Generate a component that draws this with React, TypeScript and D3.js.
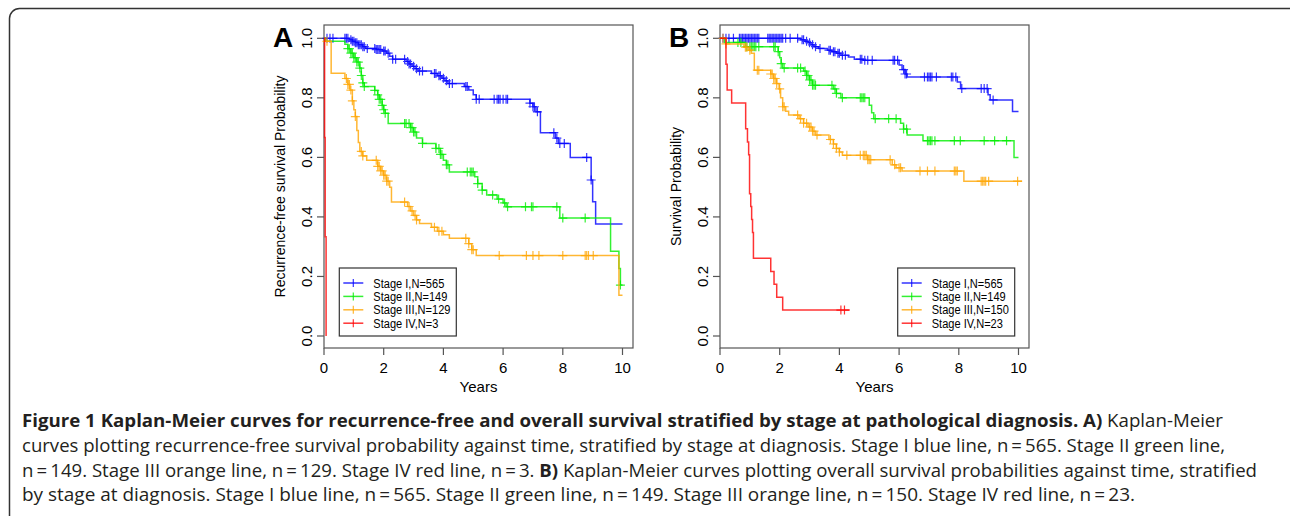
import * as d3 from 'd3';

const stageColors = ['#0000ff', '#00ee00', '#ffa500', '#ff0000'];
const legendA = ['Stage I,N=565', 'Stage II,N=149', 'Stage III,N=129', 'Stage IV,N=3'];
const legendB = ['Stage I,N=565', 'Stage II,N=149', 'Stage III,N=150', 'Stage IV,N=23'];
const xTicks = [0, 2, 4, 6, 8, 10];
const yTicks = [0, 0.2, 0.4, 0.6, 0.8, 1.0];

// A) recurrence-free survival
const rfsStage1Times = [0.85, 0.95, 1.05, 1.15, 1.3, 1.4, 1.75, 1.95, 2.1, 2.2, 2.3, 2.75, 2.85, 2.95, 3.05, 3.15, 3.6, 3.8, 3.95, 4.05, 4.15, 4.7, 4.85, 5.0, 5.1, 6.9, 7.0, 7.1, 7.25, 7.75, 7.85, 8.25, 8.95, 9.0, 9.1];
const rfsStage1Surv = [0.995, 0.99, 0.985, 0.978, 0.972, 0.966, 0.962, 0.957, 0.95, 0.94, 0.93, 0.922, 0.914, 0.906, 0.898, 0.89, 0.882, 0.874, 0.866, 0.857, 0.848, 0.838, 0.826, 0.81, 0.795, 0.782, 0.77, 0.753, 0.683, 0.665, 0.647, 0.6, 0.524, 0.451, 0.376];
const rfsStage1Censor = [0.1, 0.2, 0.3, 0.7, 0.75, 0.8, 0.9, 0.95, 1.0, 1.05, 1.1, 1.15, 1.2, 1.25, 1.3, 1.35, 1.45, 1.7, 1.75, 1.8, 1.85, 1.9, 2.0, 2.05, 2.15, 2.3, 2.4, 2.7, 2.8, 2.85, 2.9, 3.0, 3.1, 3.2, 3.3, 3.7, 3.75, 3.85, 3.9, 4.0, 4.1, 4.2, 4.3, 4.75, 4.8, 5.1, 5.2, 5.7, 5.8, 5.85, 5.9, 6.0, 6.1, 6.15, 6.9, 7.0, 7.05, 7.15, 7.7, 7.8, 7.9, 8.05, 8.8, 8.95];

const rfsStage2Times = [0.05, 0.7, 0.8, 0.9, 1.0, 1.1, 1.2, 1.25, 1.3, 1.35, 1.7, 1.8, 1.85, 1.95, 2.0, 2.05, 2.15, 2.9, 3.0, 3.1, 3.3, 3.75, 3.9, 4.0, 4.1, 4.2, 5.05, 5.15, 5.3, 5.45, 5.8, 6.0, 6.1, 7.9, 9.6, 9.88, 9.93];
const rfsStage2Surv = [0.99, 0.98, 0.965, 0.95, 0.935, 0.92, 0.9, 0.875, 0.85, 0.838, 0.825, 0.81, 0.795, 0.775, 0.76, 0.748, 0.714, 0.7, 0.685, 0.665, 0.647, 0.63, 0.61, 0.59, 0.575, 0.551, 0.535, 0.512, 0.49, 0.474, 0.46, 0.447, 0.434, 0.396, 0.285, 0.227, 0.171];
const rfsStage2Censor = [0.8, 0.85, 0.9, 0.95, 1.0, 1.05, 1.1, 1.15, 1.2, 1.25, 1.3, 1.35, 1.7, 1.8, 1.85, 1.9, 1.95, 2.0, 2.05, 2.7, 2.75, 2.85, 2.9, 2.95, 3.0, 3.05, 3.3, 3.75, 3.85, 3.9, 3.95, 4.1, 4.15, 4.8, 4.9, 4.95, 5.0, 5.15, 5.3, 5.65, 5.85, 6.05, 6.15, 6.75, 6.95, 7.0, 7.8, 8.0, 8.75, 9.93];

const rfsStage3Times = [0.03, 0.24, 0.7, 0.8, 0.87, 0.95, 1.0, 1.05, 1.1, 1.15, 1.2, 1.3, 1.43, 1.8, 1.9, 2.0, 2.1, 2.2, 2.26, 2.8, 2.9, 3.0, 3.1, 3.2, 3.6, 3.8, 4.0, 4.2, 4.85, 4.95, 5.1, 9.88];
const rfsStage3Surv = [0.99, 0.883, 0.865, 0.845, 0.826, 0.79, 0.76, 0.737, 0.69, 0.65, 0.62, 0.605, 0.59, 0.57, 0.555, 0.54, 0.52, 0.5, 0.45, 0.435, 0.42, 0.405, 0.39, 0.378, 0.365, 0.352, 0.34, 0.328, 0.31, 0.29, 0.27, 0.137];
const rfsStage3Censor = [0.1, 0.75, 0.8, 0.85, 0.9, 0.95, 1.05, 1.25, 1.3, 1.75, 1.8, 1.85, 1.9, 1.95, 2.0, 2.05, 2.1, 2.15, 2.7, 2.85, 2.95, 3.05, 3.1, 3.7, 3.85, 3.95, 4.75, 4.85, 4.95, 5.0, 5.87, 6.78, 7.0, 7.2, 8.0, 8.75, 8.8, 8.86, 9.02];

const rfsStage4Times = [0.02, 0.04, 0.07];
const rfsStage4Surv = [0.667, 0.333, 0];
const rfsStage4Censor: number[] = [];

const rfsEnds = [10, 10, 10, 0.07];

// B) overall survival
const osStage1Times = [2.7, 2.85, 2.95, 3.05, 3.15, 3.3, 3.6, 3.75, 3.9, 4.05, 4.3, 4.5, 4.8, 6.0, 6.1, 6.2, 6.27, 7.95, 8.06, 8.98, 9.05, 9.8];
const osStage1Surv = [0.995, 0.99, 0.985, 0.978, 0.972, 0.966, 0.96, 0.955, 0.95, 0.943, 0.937, 0.93, 0.926, 0.91, 0.895, 0.88, 0.87, 0.853, 0.831, 0.81, 0.793, 0.754];
const osStage1Censor = [0.1, 0.2, 0.3, 0.45, 0.65, 0.7, 0.75, 0.8, 0.85, 0.9, 0.95, 1.0, 1.05, 1.1, 1.15, 1.2, 1.25, 1.3, 1.6, 1.65, 1.7, 1.75, 1.8, 1.85, 1.9, 1.95, 2.0, 2.05, 2.1, 2.2, 2.35, 2.6, 2.75, 2.8, 2.9, 3.0, 3.1, 3.2, 3.35, 3.65, 3.7, 3.8, 3.85, 3.95, 4.0, 4.1, 4.2, 4.7, 4.75, 4.85, 4.95, 5.1, 5.8, 5.85, 5.95, 6.15, 6.2, 6.25, 6.85, 6.95, 7.0, 7.05, 7.1, 7.25, 7.75, 7.8, 7.9, 8.1, 8.75, 8.85, 8.95, 9.15];

const osStage2Times = [0.15, 0.85, 1.95, 2.0, 2.05, 2.1, 2.8, 2.9, 3.0, 3.1, 3.8, 3.9, 4.05, 5.0, 5.08, 5.15, 6.05, 6.15, 6.27, 6.8, 9.85];
const osStage2Surv = [0.986, 0.972, 0.955, 0.935, 0.915, 0.9, 0.89, 0.875, 0.86, 0.842, 0.83, 0.815, 0.8, 0.775, 0.75, 0.73, 0.715, 0.695, 0.675, 0.656, 0.6];
const osStage2Censor = [0.6, 0.7, 0.9, 1.0, 1.05, 1.1, 1.15, 1.2, 1.3, 1.8, 1.85, 1.95, 2.05, 2.15, 2.6, 2.7, 2.85, 2.9, 2.95, 3.0, 3.05, 3.1, 3.15, 3.2, 3.75, 3.85, 3.9, 4.1, 4.7, 4.75, 4.8, 4.85, 5.2, 5.65, 5.9, 6.15, 6.25, 6.95, 7.0, 7.05, 7.1, 7.2, 7.85, 8.05, 8.85, 9.2, 9.6];

const osStage3Times = [0.2, 0.8, 0.95, 1.05, 1.15, 1.7, 1.8, 1.9, 1.98, 2.03, 2.1, 2.2, 2.3, 2.65, 2.8, 2.95, 3.1, 3.2, 3.65, 3.8, 3.9, 4.0, 4.1, 4.95, 5.77, 5.9, 6.1, 8.17];
const osStage3Surv = [0.981, 0.97, 0.96, 0.95, 0.893, 0.88, 0.865, 0.848, 0.83, 0.8, 0.77, 0.755, 0.742, 0.73, 0.715, 0.702, 0.688, 0.675, 0.66, 0.645, 0.63, 0.618, 0.607, 0.592, 0.575, 0.565, 0.554, 0.52];
const osStage3Censor = [0.1, 0.2, 0.85, 0.9, 1.0, 1.25, 1.3, 1.7, 1.75, 1.8, 1.85, 1.9, 2.0, 2.1, 2.15, 2.6, 2.7, 2.8, 2.9, 3.0, 3.05, 3.1, 3.15, 3.25, 3.7, 3.8, 3.9, 4.0, 4.25, 4.7, 4.8, 4.85, 4.9, 4.95, 5.0, 5.05, 5.7, 5.85, 6.0, 6.05, 6.7, 6.95, 7.2, 7.85, 7.9, 7.95, 8.75, 8.8, 8.85, 8.9, 9.0, 9.97];

const osStage4Times = [0.2, 0.24, 0.39, 0.86, 0.92, 0.96, 0.99, 1.03, 1.06, 1.09, 1.12, 1.7, 1.81, 1.9, 2.1];
const osStage4Surv = [0.913, 0.826, 0.783, 0.696, 0.652, 0.609, 0.478, 0.435, 0.391, 0.348, 0.261, 0.217, 0.174, 0.13, 0.087];
const osStage4Censor = [4.05, 4.17];

const osEnds = [10, 10, 10.12, 4.35];

const captionLines = [
  [
    { text: 'Figure 1 Kaplan-Meier curves for recurrence-free and overall survival stratified by stage at pathological diagnosis. A)', bold: true },
    { text: ' Kaplan-Meier', bold: false },
  ],
  [
    { text: 'curves plotting recurrence-free survival probability against time, stratified by stage at diagnosis. Stage I blue line, n\u2009=\u2009565. Stage II green line,', bold: false },
  ],
  [
    { text: 'n\u2009=\u2009149. Stage III orange line, n\u2009=\u2009129. Stage IV red line, n\u2009=\u20093. ', bold: false },
    { text: 'B)', bold: true },
    { text: ' Kaplan-Meier curves plotting overall survival probabilities against time, stratified', bold: false },
  ],
  [
    { text: 'by stage at diagnosis. Stage I blue line, n\u2009=\u2009565. Stage II green line, n\u2009=\u2009149. Stage III orange line, n\u2009=\u2009150. Stage IV red line, n\u2009=\u200923.', bold: false },
  ],
];
const captionWidths = [1201, 1203, 1235, 1113];

type Curve = { times: number[]; surv: number[]; censor: number[]; end: number };

const panelA: Curve[] = [
  { times: rfsStage1Times, surv: rfsStage1Surv, censor: rfsStage1Censor, end: rfsEnds[0] },
  { times: rfsStage2Times, surv: rfsStage2Surv, censor: rfsStage2Censor, end: rfsEnds[1] },
  { times: rfsStage3Times, surv: rfsStage3Surv, censor: rfsStage3Censor, end: rfsEnds[2] },
  { times: rfsStage4Times, surv: rfsStage4Surv, censor: rfsStage4Censor, end: rfsEnds[3] },
];
const panelB: Curve[] = [
  { times: osStage1Times, surv: osStage1Surv, censor: osStage1Censor, end: osEnds[0] },
  { times: osStage2Times, surv: osStage2Surv, censor: osStage2Censor, end: osEnds[1] },
  { times: osStage3Times, surv: osStage3Surv, censor: osStage3Censor, end: osEnds[2] },
  { times: osStage4Times, surv: osStage4Surv, censor: osStage4Censor, end: osEnds[3] },
];

const font = '"Liberation Sans", Arial, sans-serif';

function survAt(c: Curve, t: number) {
  const i = d3.bisectRight(c.times, t);
  return i === 0 ? 1 : c.surv[i - 1];
}

function Panel({ left, letter, yLabel, curves, legend, legendX }: {
  left: number; letter: string; yLabel: string; curves: Curve[]; legend: string[]; legendX: number;
}) {
  const top = 25, bottom = 348, right = left + 309;
  const x = d3.scaleLinear().domain([0, 10]).range([left, left + 298.5]);
  const y = d3.scaleLinear().domain([0, 1]).range([336, 38.3]);
  const line = d3.line<[number, number]>().x((d) => x(d[0])).y((d) => y(d[1])).curve(d3.curveStepAfter);
  const legendY = 268;

  return (
    <g fontFamily={font}>
      <text x={left - 51} y={47} fontSize={28} fontWeight="bold">{letter}</text>
      <rect x={left} y={top} width={right - left} height={bottom - top} fill="none" stroke="#555" strokeWidth={1.2} />
      {xTicks.map((t) => (
        <g key={t}>
          <line x1={x(t)} x2={x(t)} y1={bottom} y2={bottom + 7} stroke="#555" strokeWidth={1.2} />
          <text x={x(t)} y={bottom + 25} fontSize={15} textAnchor="middle">{t}</text>
        </g>
      ))}
      {yTicks.map((t) => (
        <g key={t}>
          <line x1={left - 7} x2={left} y1={y(t)} y2={y(t)} stroke="#555" strokeWidth={1.2} />
          <text transform={`translate(${left - 12.5},${y(t)}) rotate(-90)`} fontSize={15} textAnchor="middle">{t.toFixed(1)}</text>
        </g>
      ))}
      <text x={(left + right) / 2} y={392} fontSize={15} textAnchor="middle">Years</text>
      <text transform={`translate(${left - 39},${(top + bottom) / 2}) rotate(-90)`} fontSize={14} textAnchor="middle">{yLabel}</text>
      {curves.map((c, k) => {
        const pts: [number, number][] = [[0, 1], ...c.times.map((t, i) => [t, c.surv[i]] as [number, number]), [c.end, c.surv[c.surv.length - 1]]];
        const marks = c.censor.map((t) => {
          const cx = x(t), cy = y(survAt(c, t));
          return `M${cx},${cy - 4.5}V${cy + 4.5}M${cx - 4.5},${cy}H${cx + 4.5}`;
        }).join('');
        return (
          <g key={k} stroke={stageColors[k]} fill="none" strokeOpacity={0.8}>
            <path d={line(pts) ?? ''} strokeWidth={1.5} />
            <path d={marks} strokeWidth={1.2} />
          </g>
        );
      })}
      <rect x={legendX} y={legendY} width={117} height={68} fill="white" stroke="#333" strokeWidth={1.2} />
      {legend.map((s, i) => {
        const ly = legendY + 15 + i * 13.4;
        return (
          <g key={s}>
            <line x1={legendX + 4} x2={legendX + 24} y1={ly} y2={ly} stroke={stageColors[i]} strokeWidth={1.5} strokeOpacity={0.8} />
            <line x1={legendX + 14} x2={legendX + 14} y1={ly - 4} y2={ly + 4} stroke={stageColors[i]} strokeWidth={1.2} strokeOpacity={0.8} />
            <text transform={`translate(${legendX + 34},${ly + 4.5}) scale(0.82,1)`} fontSize={13.5}>{s}</text>
          </g>
        );
      })}
    </g>
  );
}

export default function App() {
  return (
    <svg width={1290} height={516} style={{ position: 'absolute', left: 0, top: 0, background: 'white' }}>
      <rect x={9.5} y={8.5} width={1300} height={540} rx={10} fill="white" stroke="#333" strokeWidth={1.5} />
      <Panel left={324} letter="A" yLabel="Recurrence-free survival Probability" curves={panelA} legend={legendA} legendX={339.3} />
      <Panel left={720} letter="B" yLabel="Survival Probability" curves={panelB} legend={legendB} legendX={897.7} />
      {captionLines.map((segs, i) => (
        <text key={i} x={22} y={427 + i * 24.8} fontSize={18} fontFamily='"Open Sans", sans-serif' fill="#231f20"
          textLength={captionWidths[i]} lengthAdjust="spacingAndGlyphs">
          {segs.map((s, j) => (
            <tspan key={j} fontWeight={s.bold ? 'bold' : 'normal'}>{s.text}</tspan>
          ))}
        </text>
      ))}
    </svg>
  );
}
